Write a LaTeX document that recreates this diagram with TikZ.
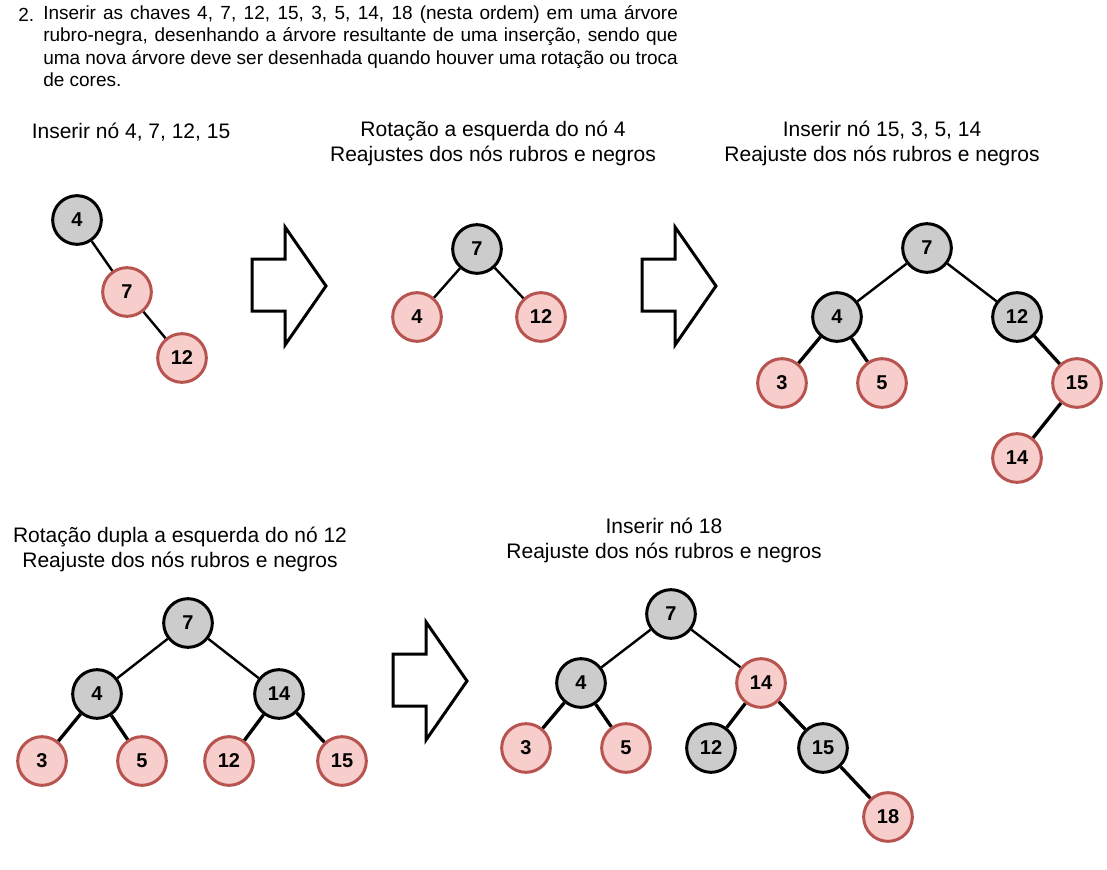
\documentclass[tikz,border=0pt]{standalone}
\usepackage{fontspec}
\setmainfont{Liberation Sans}

\definecolor{cinza}{HTML}{CCCCCC}
\definecolor{rosa}{HTML}{F8CECC}
\definecolor{vermelho}{HTML}{B85450}

\tikzset{
  no/.style={circle,line width=2.25pt,minimum size=36.5pt,inner sep=0pt,
    font=\fontsize{15}{17}\selectfont\bfseries},
  negro/.style={no,draw=black,fill=cinza},
  rubro/.style={no,draw=vermelho,fill=rosa},
  aresta/.style={line width=1.8pt},
  arestagrossa/.style={line width=2.5pt},
  seta/.style={line width=2.25pt,fill=white,line join=miter},
  legenda/.style={align=center,inner sep=0pt,font=\fontsize{15.75}{18.75}\selectfont}
}

\begin{document}
\begin{tikzpicture}[x=0.75pt,y=-0.75pt]
    \useasboundingbox (0,0) rectangle (1107,870);

    \node[anchor=base west,inner sep=0pt,font=\fontsize{14.25}{16.8}\selectfont] (num) at (18,21.5) {2.};
    \node[anchor=north west,inner sep=0pt,text width=476pt,align=justify,
      font=\fontsize{14.25}{16.8}\selectfont] (enunciado) at (43,5)
      {Inserir as chaves 4, 7, 12, 15, 3, 5, 14, 18 (nesta ordem) em uma árvore
       rubro-negra, desenhando a árvore resultante de uma inserção, sendo que
       uma nova árvore deve ser desenhada quando houver uma rotação ou troca
       de cores.};

    \node[legenda] (leg1) at (131,132) {Inserir nó 4, 7, 12, 15};
    \node[legenda] (leg2) at (493,143) {Rotação a esquerda do nó 4\\Reajustes dos nós rubros e negros};
    \node[legenda] (leg3) at (882,143) {Inserir nó 15, 3, 5, 14\\Reajuste dos nós rubros e negros};
    \node[legenda] (leg4) at (180,549) {Rotação dupla a esquerda do nó 12\\Reajuste dos nós rubros e negros};
    \node[legenda] (leg5) at (664,540) {Inserir nó 18\\Reajuste dos nós rubros e negros};

    \foreach \dx/\dy in {0/0,390/0,141/395}{
        \draw[seta,shift={(\dx,\dy)}] (252,259) -- (285,259) -- (285,227) -- (326,286)
          -- (285,345) -- (285,311) -- (252,311) -- cycle;
      }

    \foreach \n/\k/\x/\y/\s in {a4/4/77/220/negro, a7/7/127/292/rubro, a12/12/182/358/rubro,
        b7/7/477/249/negro, b4/4/417/317/rubro, b12/12/541/317/rubro,
        c7/7/927/248/negro, c4/4/837/317/negro, c12/12/1017/317/negro, c3/3/782/383/rubro,
        c5/5/882/383/rubro, c15/15/1077/383/rubro, c14/14/1017/458/rubro,
        d7/7/188/623/negro, d4/4/97/694/negro, d14/14/279/694/negro, d3/3/42/761/rubro,
        d5/5/142/761/rubro, d12/12/229/761/rubro, d15/15/342/761/rubro,
        e7/7/671/614/negro, e4/4/581/683/negro, e14/14/761/683/rubro, e3/3/526/748/rubro,
        e5/5/626/748/rubro, e12/12/711/748/negro, e15/15/823/748/negro, e18/18/888/817/rubro}{
        \node[\s] (\n) at (\x,\y) {\k};
      }

    \foreach \a/\b in {a4/a7, a7/a12, b7/b4, b7/b12, c7/c4, c7/c12, d7/d4, d7/d14, e7/e4, e7/e14}{
        \draw[aresta] (\a) -- (\b);
      }
    \foreach \a/\b in {c4/c3, c4/c5, c12/c15, c15/c14, d4/d3, d4/d5, d14/d12, d14/d15,
        e4/e3, e4/e5, e14/e12, e14/e15, e15/e18}{
        \draw[arestagrossa] (\a) -- (\b);
      }
\end{tikzpicture}
\end{document}
